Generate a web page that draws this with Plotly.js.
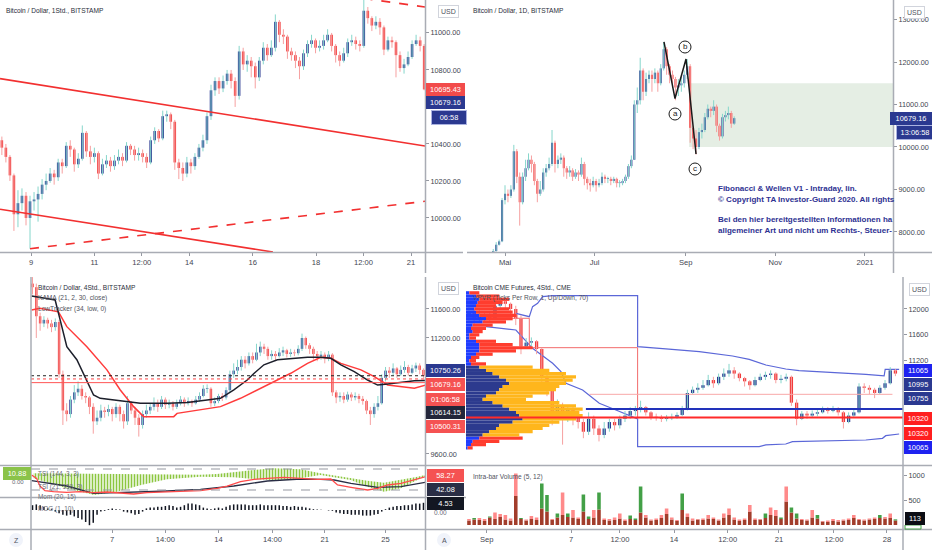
<!DOCTYPE html>
<html><head><meta charset="utf-8">
<script src="https://cdn.plot.ly/plotly-3.0.1.min.js"></script>
<style>html,body{margin:0;padding:0;background:#fff}#c{width:932px;height:550px}</style>
</head><body><div id="c"></div>
<script>
// ---------------- DATA ----------------
// Top-left: Bitcoin / Dollar, 1Std. (closes, highs, lows), time in days of September
const tlStart = 8.08, tlStep = 0.127, tlOpen0 = 10420;
const tlClose = [10380,10330,10230,10020,10080,10120,10000,10090,10100,10130,
10180,10200,10240,10220,10300,10280,10390,10370,10290,10320,
10460,10360,10330,10350,10240,10290,10310,10280,10310,10330,
10310,10390,10370,10340,10350,10330,10300,10420,10470,10430,
10550,10560,10520,10300,10270,10240,10300,10280,10330,10380,
10420,10550,10690,10740,10700,10740,10780,10740,10660,10900,
10830,10850,10820,10760,10850,10920,10880,10920,11060,10990,
10980,10900,10880,10850,10820,10890,10940,10960,10920,10930,
10960,10990,10930,10880,10850,10890,10950,10960,10940,10930,
11120,11080,11040,11060,11030,10910,10960,10950,10880,10810,
10830,10870,10940,10960,10930,10695];
const tlHigh = [10440,10400,10340,10240,10150,10160,10140,10120,10140,10170,
10210,10240,10270,10260,10320,10320,10410,10420,10380,10350,
10500,10470,10390,10380,10360,10320,10340,10330,10340,10370,
10350,10410,10400,10390,10380,10370,10350,10440,10490,10480,
10580,10580,10570,10530,10320,10300,10330,10320,10350,10400,
10450,10570,10720,10760,10760,10770,10800,10800,10760,10930,
10920,10880,10870,10840,10870,10950,10940,10960,11100,11070,
11020,10990,10920,10900,10870,10910,10960,10990,10970,10960,
10990,11020,11000,10940,10900,10920,10970,10990,10980,10960,
11180,11140,11090,11090,11080,11040,10980,10980,10960,10900,
10860,10900,10960,10990,10980,10940];
const tlLow = [10340,10300,10200,9930,9950,10040,9960,9834,10040,9980,
10100,10150,10190,10180,10200,10240,10270,10330,10250,10270,
10310,10330,10290,10300,10210,10230,10270,10250,10260,10290,
10280,10300,10340,10310,10310,10300,10270,10290,10400,10410,
10420,10520,10480,10260,10210,10200,10220,10240,10260,10320,
10360,10400,10530,10660,10670,10680,10720,10700,10600,10640,
10800,10790,10760,10700,10740,10830,10850,10870,10900,10950,
10940,10860,10850,10810,10750,10800,10870,10920,10890,10900,
10910,10950,10900,10840,10820,10840,10870,10930,10910,10900,
10920,11050,11010,11020,10990,10880,10900,10920,10760,10790,
10780,10820,10860,10930,10900,10690];
const tlTickVals = [9, 11, 12.5, 14, 16, 18, 19.5, 21];
const tlTickText = ['9', '11', '12:00', '14', '16', '18', '12:00', '21'];
const tlPriceTicks = [10000, 10200, 10400, 10800, 11000];
// channel lines (day, price)
const chan1X = [8.021, 21.442], chan1Y = [10753, 10389];
const chan2X = [8.021, 16.64],  chan2Y = [10047, 9816];
const chan3X = [8.968, 21.442], chan3Y = [9834, 10090];
const chan4X = [19.5, 21.442],  chan4Y = [11187, 11140];

// Top-right: Bitcoin / Dollar, 1D (day of year 2020, every 2nd day)
const trStart = 114, trStep = 2, trOpen0 = 7500;
const trClose = [7550,7700,7780,8750,8900,8850,9000,9900,9300,8700,
9300,9500,9700,9600,9200,8900,9000,9400,9500,9600,
10100,9600,9700,9750,9500,9400,9450,9300,9400,9350,
9600,9250,9150,9100,9200,9100,9150,9300,9250,9250,
9200,9250,9150,9150,9200,9300,9550,9700,11000,11100,
11800,11300,11600,11700,11600,11750,11500,11850,12300,11900,
11700,11600,11400,11450,11500,11700,11900,10450,10200,10000,
10350,10400,10700,10900,10850,10950,10500,10250,10700,10750,
10800,10550,10679];
const trHigh = [7600,7760,7820,8800,9100,9000,9100,10050,9950,9400,
9400,9700,9850,9800,9650,9250,9200,9500,9600,9750,
10400,10150,9800,9850,9800,9550,9550,9500,9480,9450,
9750,9650,9300,9250,9300,9250,9250,9400,9350,9300,
9300,9300,9280,9220,9250,9350,9600,9800,11100,11400,
12100,11850,11750,11800,11800,11850,11800,11950,12470,12350,
11950,11800,11650,11600,11650,11800,12070,11950,10500,10400,
10450,10550,10800,11000,10950,11100,11000,10550,10780,10850,
10950,10850,10720];
const trLow = [7450,7540,7680,7760,8650,8700,8800,8950,9150,8150,
8650,9200,9450,9400,9100,8700,8850,8950,9300,9450,
9550,9400,9500,9600,9300,9250,9300,9200,9250,9200,
9300,9100,9000,8950,9050,8950,9050,9100,9150,9150,
9100,9150,9050,9050,9100,9150,9250,9500,9700,10800,
11000,11100,11200,11500,11300,11500,11300,11450,11800,11700,
11500,11400,11100,11200,11300,11400,11600,10100,9950,9820,
9950,10200,10350,10650,10700,10750,10350,10150,10200,10600,
10650,10450,10520];
const trTickVals = [122, 183, 245, 306, 367];
const trTickText = ['Mai', 'Jul', 'Sep', 'Nov', '2021'];
const trPriceTicks = [8000, 9000, 10000, 11000, 12000, 13000];
const waveX = [230.2, 237.7, 245.2, 252.0], waveY = [12473, 11140, 12070, 9835];
const boxX = [247.3, 386.06], boxY = [10000, 11500];
const infoLines = ['Fibonacci &amp; Wellen V1 - Intraday, lin.', '© Copyright TA Investor-Guard 2020. All rights',
  'Bei den hier bereitgestellten Informationen ha', 'allgemeiner Art und nicht um Rechts-, Steuer-'];

// Bottom-left: Bitcoin / Dollar, 4Std. (day of September)
const blStart = 1.75, blStep = 0.25, blOpen0 = 11950;
const blClose = [11900,11500,11400,11450,11400,11350,11420,10700,10200,10150,
10350,10450,10500,10400,10380,10250,10050,10100,10200,10180,
10220,10150,10250,10150,10050,10300,10200,10100,10000,10150,
10200,10250,10300,10250,10350,10280,10300,10250,10300,10350,
10300,10330,10300,10350,10400,10500,10500,10300,10330,10400,
10380,10480,10700,10750,10800,10900,10850,10950,10900,11000,
11080,11050,10950,10980,10950,11000,11030,10980,11000,10990,
11050,11200,11100,11050,10980,10950,10970,10920,10970,10450,
10380,10400,10350,10420,10380,10400,10360,10330,10200,10150,
10250,10300,10650,10750,10720,10780,10700,10760,10800,10720,
10780,10820,10760,10680];
const blHigh = [12040,11950,11550,11500,11480,11450,11470,11450,10750,10300,
10400,10550,10600,10550,10450,10400,10300,10200,10280,10250,
10280,10250,10300,10280,10200,10400,10330,10250,10150,10200,
10280,10300,10380,10350,10400,10380,10350,10330,10350,10400,
10380,10380,10350,10400,10450,10550,10560,10520,10380,10430,
10440,10520,10750,10850,10900,10950,10950,11000,11000,11120,
11150,11120,11080,11030,11020,11060,11080,11050,11050,11040,
11100,11260,11220,11130,11080,11020,11020,11000,11020,10990,
10480,10450,10450,10460,10450,10450,10430,10400,10350,10250,
10300,10400,10700,10800,10800,10850,10800,10820,10880,10830,
10830,10860,10850,10780];
const blLow = [11800,11200,11300,11350,11330,11280,11300,10650,10000,10050,
10100,10300,10400,10350,10300,10150,9880,10000,10050,10100,
10120,10050,10100,10050,9950,10000,10150,10000,9840,9950,
10100,10150,10200,10180,10220,10220,10230,10200,10220,10270,
10250,10270,10250,10280,10320,10380,10440,10250,10260,10300,
10330,10350,10450,10650,10700,10750,10780,10820,10850,10880,
10950,10980,10900,10900,10880,10930,10950,10930,10940,10950,
10960,11020,11050,10980,10900,10880,10900,10850,10880,10400,
10300,10320,10300,10320,10330,10340,10300,10280,10150,10000,
10100,10200,10280,10600,10650,10680,10650,10680,10720,10680,
10700,10730,10700,10650];
const blTickVals = [7, 10.5, 14, 17.55, 21, 25];
const blTickText = ['7', '14:00', '14', '14:00', '21', '25'];
const blPriceTicks = [9600, 11200, 11600];
const kamaX = [1.69,3.24,3.57,4.01,4.67,5.11,5.44,5.77,6.21,7.09,7.97,8.85,10.61,11.93,13.25,14.13,15.01,15.89,16.33,16.99,17.88,18.98,19.86,20.74,21.40,22.06,22.94,23.82,24.48,25.14,26.02,26.90,27.67];
const kamaY = [11780,11724,11450,11080,10900,10710,10575,10414,10368,10345,10330,10300,10300,10310,10345,10368,10483,10620,10710,10830,10900,10920,10933,10933,10920,10830,10735,10620,10550,10565,10590,10610,10614];
const lowTX = [1.69,2.24,3.46,4.01,5.33,6.65,7.53,8.41,9.07,11.05,11.27,12.81,14.13,15.45,17.22,18.76,19.86,20.74,21.40,22.06,23.38,24.26,25.14,26.02,26.90,27.67];
const lowTY = [11586,11610,11560,11356,11080,10760,10483,10253,10115,10115,10160,10207,10253,10368,10552,10713,10850,10933,10920,10850,10760,10667,10552,10530,10506,10552];
const blLevels = [10679.16, 10635, 10584];
// TSI panel
const bandX   = [1.8,4.0,5.8,7.3,8.9,10.6,12.8,13.9,15.0,16.1,17.2,17.7,19.4,20.7,22.7,23.8,24.9,26.0,27.1,27.6];
const bandTop = [67.6,66.7,65.7,64.8,63.8,62.9,63.8,65.7,70.5,77.1,81.0,81.9,79.0,67.6,53.3,46.7,41.0,48.6,58.1,62.9];
const bandBot = [53.3,24.8,5.7,15.2,34.3,50.5,58.1,58.1,56.2,52.4,48.6,47.6,53.3,62.9,48.6,29.5,15.2,24.8,48.6,58.1];
const tsiRedX = [1.69,2.02,2.24,2.57,3.13,4.01,4.89,5.77,6.65,7.53,8.41,9.29,10.61,11.93,12.81,13.91,14.57,15.45,16.34,17.22,18.32,19.42,20.52,21.40,21.84,22.72,23.82,24.48,25.14,26.02,26.90,27.34,27.67];
const tsiRedY = [62.9,53.3,31.4,18.1,15.2,13.3,15.2,12.4,14.3,12.4,8.6,12.4,14.3,17.1,18.1,24.8,31.4,43.8,50.5,53.3,56.2,53.3,50.5,51.4,34.3,27.6,20.0,24.8,34.3,39.0,50.5,56.2,58.3];
const tsiDarkX = [1.69,4.01,5.77,8.41,10.61,12.81,15.01,17.22,19.42,20.74,21.62,22.72,24.48,26.02,27.67];
const tsiDarkY = [46.7,31.4,10.5,13.3,17.1,21.9,31.4,45.7,51.4,50.5,48.6,39.0,27.6,29.5,42.1];
const tsiLevels = [80, 20];
// MOG histogram
const mog = [3,3.5,3,2,1,0.5,-1,-2,-3,-3.5,
-3,-4,-5,-6,-7.5,-9.5,-8,-3,-1,-0.5,
0.5,1,0.5,0.3,-1,-1.5,-2,-3,-2.5,-1,
1,1.5,1.5,2,2,2.5,3,2.5,1.5,2,
3,4,4,3.5,3,1.5,1,0.5,1,1.5,
1,2,3,3.5,3.5,3.5,3.5,3,3,3,
3.5,3,3,3,3,3,2.5,2.5,2,2.5,
2,2,1.5,1,0.5,0.3,0.2,0,-0.3,-0.5,
-1.5,-2,-2.5,-2.5,-3,-3,-3,-3.5,-3.5,-3.5,
-3,-2.5,-1,0.5,1.5,2,2.5,2.5,3,3,
3.5,4,4,4.5];

// Bottom-right: Bitcoin CME Futures, 4Std. (compressed session time)
const brStart = 0.2, brStep = 0.35, brOpen0 = 11900;
const brClose = [11950,11850,11900,11880,11850,12050,12120,12080,12000,11850,
11420,11480,11500,11380,10950,10750,10350,10500,10300,10450,
10350,10250,10100,10300,10150,10050,10150,10250,10200,10300,
10350,10420,10450,10480,10400,10330,10320,10300,10310,10330,
10360,10450,10700,10750,10780,10820,10900,10850,10950,11000,
11050,11000,10930,10880,10820,10900,10950,10980,11000,10900,
10920,10950,10550,10300,10380,10350,10380,10400,10440,10420,
10450,10400,10250,10350,10400,10800,10780,10750,10700,10780,
10850,11050,11000];
const brHigh = [12050,12000,11980,11950,11950,12100,12180,12150,12100,12050,
11900,11550,11560,11520,11400,10980,10800,10600,10550,10500,
10480,10400,10300,10400,10350,10200,10250,10300,10300,10350,
10420,10480,10500,10580,10500,10420,10380,10360,10360,10380,
10400,10500,10750,10800,10850,10900,10980,10950,11000,11080,
11150,11100,11020,10950,10900,10950,11000,11030,11050,11020,
10980,11000,10970,10600,10420,10420,10430,10450,10490,10480,
10500,10480,10420,10400,10450,10850,10850,10820,10780,10820,
10900,11100,11070];
const brLow = [11800,11750,11800,11800,11780,11850,12000,12000,11900,11750,
11300,11380,11400,11300,10850,10650,10200,10300,9900,10250,
10200,10150,10000,10050,10050,9950,10000,10100,10120,10150,
10250,10300,10350,10400,10350,10280,10270,10250,10260,10280,
10300,10340,10430,10680,10700,10750,10800,10780,10820,10900,
10950,10920,10880,10800,10750,10800,10880,10900,10920,10850,
10850,10880,10500,10200,10280,10300,10320,10340,10380,10380,
10400,10350,10150,10230,10330,10380,10700,10680,10620,10680,
10750,10830,10960];
const brTickVals = [1.4, 7.07, 10.36, 14, 17.61, 21.06, 24.76, 28.33];
const brTickText = ['Sep', '7', '12:00', '14', '12:00', '21', '12:00', '28'];
const brPriceTicks = [11200, 11600, 12000];
const volDown = [120,110,140,120,150,250,220,200,130,1030,
120,110,180,150,330,270,120,150,650,160,
300,150,270,120,300,310,130,120,150,230,
110,120,100,250,200,110,130,200,330,150,
100,300,230,130,120,130,200,150,110,230,
330,150,110,130,400,130,120,140,350,300,
120,770,250,130,120,110,300,130,80,90,
120,100,110,130,200,120,110,130,150,140,
160,230,90];
const volUp = [90,140,100,80,170,120,160,110,90,580,
140,90,120,100,830,600,100,230,200,230,
150,120,610,170,150,650,100,90,100,130,
80,190,130,770,150,90,100,140,220,110,
80,630,160,90,110,100,130,120,90,150,
200,110,80,100,270,100,110,230,200,180,
150,470,350,230,100,90,150,200,70,60,
80,70,90,100,140,100,90,110,120,200,
130,140,113];
const volTicks = [500, 1000];
// Volume profile (VPVR) rows
const vpPrice = [9850,9900,9950,10000,10050,10100,10150,10200,10250,10300,10350,10400,10450,10500,10550,10600,10650,10700,10750,10800,10850,10900,10950,11000,11050,11100,11150,11200,11250,11300,11350,11400,11450,11500,11550,11600,11650,11700,11750,11800,11850,11900,11950,12000,12050,12100,12150,12200,12250];
const vpUp   = [5,15,20,40,50,70,90,100,140,170,160,150,130,110,80,50,60,90,100,110,130,120,100,80,60,40,15,10,15,30,40,40,40,30,10,10,20,15,20,50,60,40,30,25,30,35,40,30,10];
const vpDown = [15,45,80,130,110,130,140,150,140,160,190,190,220,220,200,130,140,160,170,170,170,200,230,220,190,160,45,20,25,50,110,160,100,60,20,30,30,45,60,70,80,110,110,105,60,75,90,70,30];
const valueArea = [10050, 11100];
const vwapUpX = [3.36,4.26,4.48,4.82,5.16,5.83,11.55,11.55,13.45,15.70,17.94,19.06,20.18,21.52,22.42,24.66,26.91,28.14,28.21,29.15];
const vwapUpY = [11933,11881,12036,12088,12191,12206,12206,11417,11381,11340,11272,11221,11133,11071,11045,11020,10989,10963,11066,11066];
const vwapLoX = [1.35,2.24,3.36,4.48,5.83,6.39,6.73,7.85,8.97,10.09,11.21,11.55,11.55,19.73,20.18,21.52,21.97,24.66,26.91,28.03,28.25,29.15];
const vwapLoY = [11727,11701,11675,11391,11159,11030,10849,10746,10540,10437,10333,10297,9869,9869,9895,9910,9946,9962,9972,9998,10039,10065];
const sessX = [2.69,4.26,4.26,11.55,11.55], sessY = [11856,11856,11401,11401,10302];
const brNavyLevel = 10452, brPOC = 10320, brLast = 10679;

// ---------------- DRAWING ----------------
const W = 932, H = 550;
const px = v => v / W, py = v => 1 - v / H;
const FONT = '"Liberation Sans", Arial, sans-serif';
const UP = '#2b3a92', DN = '#f23b3b', UPW = '#86d6cb', DNW = '#f6a0a0';

function positions(start, step, n){ const a=[]; for(let i=0;i<n;i++) a.push(+(start+step*i).toFixed(4)); return a; }
function opens(first, C){ const O=[first]; for(let i=1;i<C.length;i++) O.push(C[i-1]); return O; }
function candles(x, O, Hh, L, C, xa, ya, w, minH){
  const ux=[],uy=[],dx=[],dy=[],bx=[],bb=[],bh=[],bc=[];
  for(let i=0;i<x.length;i++){
    const o=O[i], c=C[i], hi=Math.max(Hh[i],o,c), lo=Math.min(L[i],o,c), up=c>=o;
    if(up){ ux.push(x[i],x[i],null); uy.push(lo,hi,null); } else { dx.push(x[i],x[i],null); dy.push(lo,hi,null); }
    bx.push(x[i]); bb.push(Math.min(o,c)); bh.push(Math.max(Math.abs(c-o),minH)); bc.push(up?UP:DN);
  }
  return [
    {type:'scatter',mode:'lines',x:ux,y:uy,xaxis:xa,yaxis:ya,line:{color:UPW,width:1},hoverinfo:'skip',connectgaps:false},
    {type:'scatter',mode:'lines',x:dx,y:dy,xaxis:xa,yaxis:ya,line:{color:DNW,width:1},hoverinfo:'skip',connectgaps:false},
    {type:'bar',x:bx,y:bh,base:bb,width:w,xaxis:xa,yaxis:ya,marker:{color:bc,line:{width:0}},hoverinfo:'skip'}
  ];
}
function line(x,y,xa,ya,color,width,dash){ return {type:'scatter',mode:'lines',x,y,xaxis:xa,yaxis:ya,line:{color,width,dash:dash||'solid'},hoverinfo:'skip'}; }

const traces = [];
// TL
const tlX = positions(tlStart, tlStep, tlClose.length);
traces.push(...candles(tlX, opens(tlOpen0, tlClose), tlHigh, tlLow, tlClose, 'x', 'y', 0.08, 5));
traces.push(line(chan1X, chan1Y, 'x','y','#f23030',1.6));
traces.push(line(chan2X, chan2Y, 'x','y','#f23030',1.6));
traces.push(line(chan3X, chan3Y, 'x','y','#f23030',1.6,'dash'));
traces.push(line(chan4X, chan4Y, 'x','y','#f23030',1.6,'dash'));
// TR
const trX = positions(trStart, trStep, trClose.length);
traces.push(...candles(trX, opens(trOpen0, trClose), trHigh, trLow, trClose, 'x2', 'y2', 1.4, 20));
traces.push(line(waveX, waveY, 'x2','y2','#1a1a1a',1.5));
// BL main
const blX = positions(blStart, blStep, blClose.length);
traces.push(...candles(blX, opens(blOpen0, blClose), blHigh, blLow, blClose, 'x3', 'y3', 0.16, 10));
traces.push(line(lowTX, lowTY, 'x3','y3','#ff3b3b',1.5));
traces.push(line(kamaX, kamaY, 'x3','y3','#1c1f2b',1.5));
// BL TSI band
traces.push({type:'scatter',mode:'lines',x:bandX,y:bandBot,xaxis:'x4',yaxis:'y4',line:{width:0,color:'rgba(0,0,0,0)'},hoverinfo:'skip'});
traces.push({type:'scatter',mode:'lines',x:bandX,y:bandTop,xaxis:'x4',yaxis:'y4',line:{width:0,color:'rgba(0,0,0,0)'},fill:'tonexty',fillcolor:'rgba(140,198,63,0.15)',
  fillpattern:{shape:'|',fgcolor:'#8cc63f',bgcolor:'rgba(255,255,255,0)',size:3,solidity:0.55},hoverinfo:'skip'});
traces.push(line(tsiDarkX, tsiDarkY, 'x4','y4','#2a2e45',1.3));
traces.push(line(tsiRedX, tsiRedY, 'x4','y4','#ff4a4a',1.3));
// BL MOG
traces.push({type:'bar',x:blX,y:mog,width:0.1,xaxis:'x5',yaxis:'y5',marker:{color:'#131722',line:{width:0}},hoverinfo:'skip'});
// BR profile
const vpUpCol = vpPrice.map(p => (p>=valueArea[0] && p<=valueArea[1]) ? '#2c3a8e' : '#1f3dff');
const vpDnCol = vpPrice.map(p => (p>=valueArea[0] && p<=valueArea[1]) ? '#ffb61c' : '#ff3d2e');
traces.push({type:'bar',orientation:'h',y:vpPrice,x:vpUp,width:50,xaxis:'x7',yaxis:'y6',marker:{color:vpUpCol,line:{width:0}},hoverinfo:'skip'});
traces.push({type:'bar',orientation:'h',y:vpPrice,x:vpDown,base:vpUp,width:50,xaxis:'x7',yaxis:'y6',marker:{color:vpDnCol,line:{width:0}},hoverinfo:'skip'});
// BR candles and lines
const brX = positions(brStart, brStep, brClose.length);
traces.push(line(vwapUpX, vwapUpY, 'x6','y6','#5b67d8',1.2));
traces.push(line(vwapLoX, vwapLoY, 'x6','y6','#5b67d8',1.2));
traces.push(line(sessX, sessY, 'x6','y6','#f26b6b',1));
traces.push(...candles(brX, opens(brOpen0, brClose), brHigh, brLow, brClose, 'x6', 'y6', 0.22, 12));
// BR volume
const vMin = volUp.map((u,i)=>Math.min(u,volDown[i]));
traces.push({type:'bar',x:brX,y:vMin,width:0.24,xaxis:'x8',yaxis:'y8',marker:{color:'#a23d2b',line:{width:0}},hoverinfo:'skip'});
traces.push({type:'bar',x:brX,y:volUp.map((u,i)=>Math.max(u-volDown[i],0)),base:vMin,width:0.24,xaxis:'x8',yaxis:'y8',marker:{color:'#43a047',line:{width:0}},hoverinfo:'skip'});
traces.push({type:'bar',x:brX,y:volDown.map((d,i)=>Math.max(d-volUp[i],0)),base:vMin,width:0.24,xaxis:'x8',yaxis:'y8',marker:{color:'#ff8a8a',line:{width:0}},hoverinfo:'skip'});

// axes
const tickFont = {family:FONT,size:7.3,color:'#434651'};
function xAx(domain, range, anchor, vals, text, extra){
  return Object.assign({domain, range, anchor, showgrid:false, zeroline:false, showline:false,
    tickmode:'array', tickvals: vals||[], ticktext: text||[], showticklabels: !!vals, ticks: vals?'outside':'',
    ticklen:3, tickcolor:'#9598a1', tickfont:{family:FONT,size:7.6,color:'#434651'}, fixedrange:true}, extra||{});
}
function yAx(domain, range, anchor, vals, dec){
  return {domain, range, anchor, side:'right', showgrid:false, zeroline:false, showline:false,
    tickmode:'array', tickvals: vals||[], ticktext:(vals||[]).map(v=>v.toFixed(dec)), showticklabels:!!vals,
    ticks: vals?'outside':'', ticklen:3, tickcolor:'#9598a1', tickfont:tickFont, fixedrange:true};
}
const dTLx=[0,425/W], dTopY=[1-252/H,1], dTRx=[466/W,893/W];
const dBLx=[31/W,425/W], dBotY=[1-465/H,1-277/H], dS1=[1-498/H,1-466/H], dS2=[1-529/H,1-498/H];
const dBRx=[466/W,903/W], dVol=[1-529/H,1-466/H];
const brRange=[0,29.41], blRange=[1.65,27.6];

// annotations
function txt(x,y,text,size,color,extra){ return Object.assign({xref:'paper',yref:'paper',x:px(x),y:py(y),text,showarrow:false,xanchor:'left',yanchor:'middle',
  font:{family:FONT,size:size||6.6,color:color||'#2a2e39'}}, extra||{}); }
function tag(x,y,w,text,bg,fg,border){ return {xref:'paper',yref:'paper',x:px(x),y:py(y),xanchor:'left',yanchor:'middle',text,showarrow:false,
  bgcolor:bg,width:w,height:11,borderpad:1,bordercolor:border||bg,borderwidth:border?1:0,font:{family:FONT,size:7.4,color:fg||'#ffffff'},align:'center'}; }
function usd(x,y){ return {xref:'paper',yref:'paper',x:px(x),y:py(y),xanchor:'center',yanchor:'middle',text:'USD',showarrow:false,bgcolor:'#ffffff',
  bordercolor:'#d1d4dc',borderwidth:1,borderpad:2,font:{family:FONT,size:7,color:'#50535e'}}; }

const annotations = [
  txt(4,10,'Bitcoin / Dollar, 1Std., BITSTAMP'),
  txt(471,10,'Bitcoin / Dollar, 1D, BITSTAMP'),
  txt(36,287,'Bitcoin / Dollar, 4Std., BITSTAMP'),
  txt(36,298,'KAMA (21, 2, 30, close)',6.6,'#50535e'),
  txt(36,309,'LowTracker (34, low, 0)',6.6,'#50535e'),
  txt(471,287,'Bitcoin CME Futures, 4Std., CME'),
  txt(471,298,'VPVR (Ticks Per Row, 1, Up/Down, 70)',6.6,'#50535e'),
  txt(471,477,'Intra-bar Volume (5, 12)',6.6,'#50535e'),
  txt(36,474,'TSI (144, 3, 3)',6.4,'#6a6d78'),
  txt(36,487,'TSI (21, 150, 3)',6.4,'#6a6d78'),
  txt(36,497,'Mom (20, 15)',6.4,'#6a6d78'),
  txt(36,509,'MOG (1, 10)',6.4,'#6a6d78'),
  usd(448,11.5), usd(914.5,12), usd(448,288), usd(919.5,289),
  // TL tags
  tag(426,89,37,'10695.43','#f24b4b'), tag(426,103,37,'10679.16','#2b3990'), tag(431,117.5,32,'06:58','#2b3990','#fff','#aab2e0'),
  // TR tags
  tag(890,118,40,'10679.16','#2b3990'), tag(896,132.5,34,'13:06:58','#2b3990','#fff','#aab2e0'),
  // BL tags
  tag(426,370,37,'10750.26','#2b3990'), tag(426,384,37,'10679.16','#f55252'), tag(426,399.5,37,'01:06:58','#f55252'),
  tag(426,412,37,'10614.15','#23263a'), tag(426,426.3,37,'10500.31','#f55252'),
  tag(427,475.5,35,'58.27','#f55252'), tag(427,489,35,'42.08','#2a2e45'), tag(427,503,35,'4.53','#131722'),
  tag(3,473.5,26,'10.88','#8bc34a'),
  txt(10,482,'0.00',6,'#6a6d78'), txt(432,512,'0.00',6.5,'#6a6d78'),
  // BR tags
  tag(903.5,370,26,'11065','#1e22f0'), tag(903.5,384,26,'10995','#2b3990'), tag(903.5,398,26,'10755','#2b3990'),
  tag(903.5,418.5,26,'10320','#ff1f1f'), tag(903.5,433,26,'10320','#ff1f1f'), tag(903.5,447.5,26,'10065','#1e22f0'),
  tag(905,518,18,'113','#0c0e15'),
  // wave labels
  txt(685,46.5,'b',8,'#1a1a1a',{xanchor:'center'}), txt(675,113.5,'a',8,'#1a1a1a',{xanchor:'center'}), txt(695,168.5,'c',8,'#1a1a1a',{xanchor:'center'}),
  // Z / A buttons
  txt(16,540,'Z',7,'#50535e',{xanchor:'center'}), txt(444,540,'A',7,'#50535e',{xanchor:'center'})
];
const infoY = [188, 199, 219, 230];
infoLines.forEach((t,i)=>annotations.push(txt(716, infoY[i], t, 8, '#2e3192', {font:{family:FONT,size:8,color:'#2e3192',weight:'bold'}})));

// shapes
function ln(x0,y0,x1,y1,c,w,dash){ return {type:'line',xref:'paper',yref:'paper',x0:px(x0),y0:py(y0),x1:px(x1),y1:py(y1),line:{color:c,width:w,dash:dash||'solid'}}; }
function circ(cx,cy,r,fill,lc){ return {type:'circle',xref:'paper',yref:'paper',x0:px(cx-r),x1:px(cx+r),y0:py(cy+r),y1:py(cy-r),fillcolor:fill,line:{color:lc||fill,width:lc?1:0}}; }
const G = '#a9acb4';
const shapes = [
  {type:'rect',xref:'x2',yref:'y2',x0:boxX[0],x1:boxX[1],y0:boxY[0],y1:boxY[1],fillcolor:'#e5eee4',line:{width:0},layer:'below'},
  // BL level lines
  {type:'line',xref:'x3 domain',yref:'y3',x0:0,x1:1,y0:blLevels[0],y1:blLevels[0],line:{color:'#222',width:1,dash:'dot'}},
  {type:'line',xref:'x3 domain',yref:'y3',x0:0,x1:1,y0:blLevels[1],y1:blLevels[1],line:{color:'#f44',width:1,dash:'dot'}},
  {type:'line',xref:'x3 domain',yref:'y3',x0:0,x1:1,y0:blLevels[2],y1:blLevels[2],line:{color:'#f55',width:1}},
  {type:'line',xref:'x4 domain',yref:'y4',x0:0,x1:1,y0:tsiLevels[0],y1:tsiLevels[0],line:{color:'#9598a1',width:1,dash:'dash'}},
  {type:'line',xref:'x4 domain',yref:'y4',x0:0,x1:1,y0:tsiLevels[1],y1:tsiLevels[1],line:{color:'#9598a1',width:1,dash:'dash'}},
  // BR level lines
  {type:'line',xref:'x6',yref:'y6',x0:8.3,x1:28.7,y0:brLast,y1:brLast,line:{color:'#f8a8a8',width:1}},
  {type:'line',xref:'x6',yref:'y6',x0:8.07,x1:brRange[1],y0:brNavyLevel,y1:brNavyLevel,line:{color:'#2233bb',width:2}},
  {type:'line',xref:'x6',yref:'y6',x0:0,x1:brRange[1],y0:brPOC,y1:brPOC,line:{color:'#ff2a2a',width:2}},
  // panel borders
  ln(0,252.5,463,252.5,G,1.6), ln(467,252.5,932,252.5,G,1.6),
  ln(425.5,0,425.5,273,G,1.5), ln(893.5,0,893.5,273,G,1.5),
  ln(31,277,31,550,G,1.5), ln(425.5,277,425.5,550,G,1.5),
  ln(0,465.5,466,465.5,G,1.6), ln(0,497.5,466,497.5,G,1.6), ln(0,529.5,466,529.5,G,1.6),
  ln(903,277,903,550,G,1.5),
  ln(466,465.5,932,465.5,G,1.6), ln(466,529.5,932,529.5,G,1.6),
  // circles
  circ(685,47,6,'#ffffff','#1a1a1a'), circ(675,114,6,'#ffffff','#1a1a1a'), circ(695,169,6,'#ffffff','#1a1a1a'),
  circ(16,540,7,'#f0f3fa'), circ(444,540,7,'#f0f3fa'),
  {type:'rect',xref:'paper',yref:'paper',x0:px(905),x1:px(921),y0:py(529),y1:py(525),fillcolor:'#ffffff',line:{color:'#43a047',width:1}}
];

const layout = {
  width:W, height:H, margin:{l:0,r:0,t:0,b:0}, paper_bgcolor:'#ffffff', plot_bgcolor:'rgba(0,0,0,0)',
  showlegend:false, barmode:'overlay', hovermode:false, font:{family:FONT},
  xaxis: xAx(dTLx,[8.021,21.442],'y',tlTickVals,tlTickText),
  yaxis: yAx(dTopY,[9816,11178],'x',tlPriceTicks,2),
  xaxis2: xAx(dTRx,[95.45,386.06],'y2',trTickVals,trTickText),
  yaxis2: yAx(dTopY,[7529,13459],'x2',trPriceTicks,2),
  xaxis3: xAx(dBLx,blRange,'y3',null,null),
  yaxis3: yAx(dBotY,[9448,12041],'x3',blPriceTicks,2),
  xaxis4: xAx(dBLx,blRange,'y4',null,null),
  yaxis4: yAx(dS1,[-2.86,88.6],'x4',null,0),
  xaxis5: xAx(dBLx,blRange,'y5',blTickVals,blTickText),
  yaxis5: yAx(dS2,[-11.875,7.5],'x5',null,0),
  xaxis6: xAx(dBRx,brRange,'y6',null,null),
  yaxis6: yAx(dBotY,[9585,12495],'x6',brPriceTicks,0),
  xaxis7: {domain:dBRx,range:[0,1311],anchor:'y6',overlaying:'x6',visible:false,fixedrange:true},
  xaxis8: xAx(dBRx,brRange,'y8',brTickVals,brTickText),
  yaxis8: yAx(dVol,[-80,1180],'x8',volTicks,0),
  annotations, shapes
};
Plotly.newPlot('c', traces, layout, {staticPlot:true, displayModeBar:false});
</script></body></html>
